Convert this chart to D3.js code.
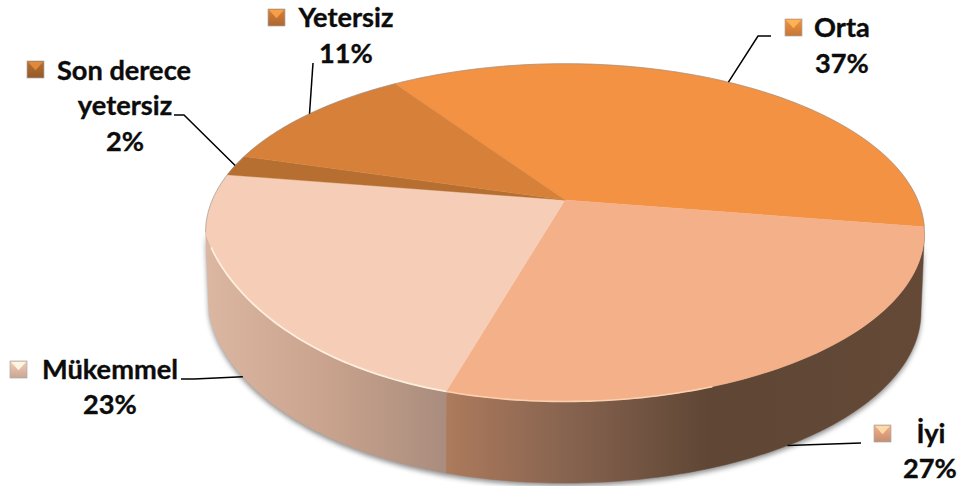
<!DOCTYPE html>
<html>
  <head>
    <meta charset="utf-8">
    <title>Pie</title>
    <script src="https://d3js.org/d3.v7.min.js"></script>
    <style>
      html, body { margin: 0; padding: 0; background: #fff; }
      svg { display: block; }
      text { font-family: Lato, "Open Sans", sans-serif; font-weight: 700; font-size: 27.2px; fill: #0c0c0c; stroke: #0c0c0c; stroke-width: 0.35px; text-anchor: middle; }
    </style>
  </head>
  <body>
    <svg id="chart" width="959" height="486"></svg>

    <script>
      // values, in the order the slices run clockwise from the back
      const categories = ["Orta", "İyi", "Mükemmel", "Son derece yetersiz", "Yetersiz"];
      const percents = [37, 27, 23, 2, 11];
      const percentLabels = ["37%", "27%", "23%", "2%", "11%"];

      const sliceColors = ["#f39243", "#f4b089", "#f6cdb6", "#b76f31", "#d7803a"];

      // label blocks: text lines with their centre x / baseline, marker corner, leader elbows
      const labelLayout = [
        { lines: [["Orta", 842, 37], ["37%", 842, 73]], marker: [785, 19], leader: [[771, 36], [758, 36]], rim: "top" },
        { lines: [["İyi", 931, 443], ["27%", 930, 478]], marker: [874, 425], leader: [[861, 443]], rim: "bottom" },
        { lines: [["Mükemmel", 110, 379], ["23%", 110, 414]], marker: [10, 361], leader: [[181, 379], [194, 379]], rim: "bottom" },
        { lines: [["Son derece", 124, 80], ["yetersiz", 125, 115], ["2%", 125, 151]], marker: [27, 61], leader: [[174, 115], [184, 115]], rim: "top" },
        { lines: [["Yetersiz", 346, 27], ["11%", 346, 63]], marker: [268, 9], leader: [[313, 63]], rim: "top" }
      ];

      const svg = d3.select("#chart");
      const defs = svg.append("defs");

      const deg = Math.PI / 180;
      const k = 0.193;  // perspective strength
      const topDisc = { cx: 565, cy: 200, r: 352.7, h: 162.6, pull: 55 };
      const bottomDisc = { cx: 565, cy: 279, r: 349.3, h: 164.7, pull: 30 };

      // circle angle (0 = back, clockwise) -> screen point
      function project(a, disc) {
        const X = Math.sin(a), Z = -Math.cos(a);
        const w = 1 - k * Z;
        // the front left of the original is pulled in a little
        const pull = X < 0 ? disc.pull * X * X * Math.max(0, Z - k) : 0;
        return [disc.cx + disc.r * X / w + pull, disc.cy + disc.h * Z / w];
      }

      function arcPoints(a0, a1, disc) {
        const n = Math.max(2, Math.ceil(Math.abs(a1 - a0) / deg));
        return d3.range(n + 1).map(i => project(a0 + (a1 - a0) * i / n, disc));
      }

      const line = d3.line();
      const leaderLine = d3.line().curve(d3.curveLinear);

      const pie = d3.pie()
                    .sort(null)
                    .startAngle(-34 * deg)
                    .endAngle(326 * deg);
      const slices = pie(percents);

      // Wall gradients
      function addGradient(id, x1, x2, stops) {
        const g = defs.append("linearGradient")
                      .attr("id", id)
                      .attr("gradientUnits", "userSpaceOnUse")
                      .attr("x1", x1).attr("x2", x2)
                      .attr("y1", 0).attr("y2", 0);
        stops.forEach(s => g.append("stop").attr("offset", s[0]).attr("stop-color", s[1]));
      }
      addGradient("wall1", 443, 926, [[0, "#ae7b5d"], [0.25, "#886450"], [0.55, "#5f4635"], [1, "#644936"]]);
      addGradient("wall2", 207, 444, [[0, "#dbb6a0"], [0.5, "#c9a38d"], [1, "#aa8d7e"]]);

      const blur = defs.append("filter")
                       .attr("id", "soft")
                       .attr("x", "-5%").attr("y", "-5%")
                       .attr("width", "110%").attr("height", "115%");
      blur.append("feGaussianBlur").attr("stdDeviation", 2.5);

      const frontFrom = 101 * deg, frontTo = 259 * deg;

      // Shadow under the wall
      svg.append("path")
         .attr("d", line(arcPoints(frontFrom, frontTo, topDisc).concat(arcPoints(frontTo, frontFrom, bottomDisc))) + "Z")
         .attr("transform", "translate(0,3)")
         .attr("fill", "#555")
         .attr("opacity", 0.65)
         .attr("filter", "url(#soft)");

      // Side wall, only the slices that face the viewer
      [[1, "wall1"], [2, "wall2"]].forEach(([i, grad]) => {
        const a0 = Math.max(slices[i].startAngle, frontFrom);
        const a1 = Math.min(slices[i].endAngle, frontTo);
        svg.append("path")
           .attr("d", line(arcPoints(a0, a1, topDisc).concat(arcPoints(a1, a0, bottomDisc))) + "Z")
           .attr("fill", `url(#${grad})`)
           .attr("stroke", `url(#${grad})`)
           .attr("stroke-width", 0.5);
      });

      // Top of the pie
      svg.append("g").selectAll("path")
         .data(slices)
         .enter()
         .append("path")
           .attr("d", d => line([[topDisc.cx, topDisc.cy]].concat(arcPoints(d.startAngle, d.endAngle, topDisc))) + "Z")
           .attr("fill", (d, i) => sliceColors[i])
           .attr("stroke", (d, i) => sliceColors[i])
           .attr("stroke-width", 0.4);

      // Grey edge along the back, light rim along the front
      svg.append("path")
         .attr("d", line(arcPoints(-101 * deg, 101 * deg, topDisc)))
         .attr("fill", "none").attr("stroke", "#8a8a8a").attr("stroke-width", 0.8).attr("opacity", 0.7);
      svg.append("path")
         .attr("d", line(arcPoints(160 * deg, 196.4 * deg, topDisc)))
         .attr("fill", "none").attr("stroke", "#fbd0b0").attr("stroke-width", 1.6);
      svg.append("path")
         .attr("d", line(arcPoints(196.4 * deg, 254 * deg, topDisc)))
         .attr("fill", "none").attr("stroke", "#fdeedd").attr("stroke-width", 1.8);

      // Leader lines, from the label elbow to the slice's middle angle
      slices.forEach((d, i) => {
        const mid = (d.startAngle + d.endAngle) / 2;
        const end = project(mid, labelLayout[i].rim === "top" ? topDisc : bottomDisc);
        svg.append("path")
           .attr("d", leaderLine(labelLayout[i].leader.concat([end])))
           .attr("fill", "none")
           .attr("stroke", "#000")
           .attr("stroke-width", 1.5);
      });

      // Label text
      labelLayout.forEach(l => {
        l.lines.forEach(t => {
          svg.append("text").attr("x", t[1]).attr("y", t[2]).text(t[0]);
        });
      });

      // Legend keys: small bevelled squares
      labelLayout.forEach((l, i) => {
        const base = d3.color(sliceColors[i]);
        const id = "key" + i;
        const g = defs.append("linearGradient").attr("id", id)
                      .attr("x1", 0).attr("x2", 0).attr("y1", 0).attr("y2", 1);
        g.append("stop").attr("offset", 0).attr("stop-color", base);
        g.append("stop").attr("offset", 1).attr("stop-color", base.darker(0.6));

        const [mx, my] = l.marker;
        const size = 17;
        svg.append("rect")
           .attr("x", mx).attr("y", my)
           .attr("width", size).attr("height", size)
           .attr("fill", `url(#${id})`)
           .attr("stroke", "#aaa").attr("stroke-width", 0.7);
        svg.append("path")
           .attr("d", line([[mx + 1, my + 1], [mx + size - 1, my + 1], [mx + size / 2, my + size * 0.55]]) + "Z")
           .attr("fill", base.brighter(0.7))
           .attr("opacity", 0.85);
      });
    </script>
  </body>
</html>
